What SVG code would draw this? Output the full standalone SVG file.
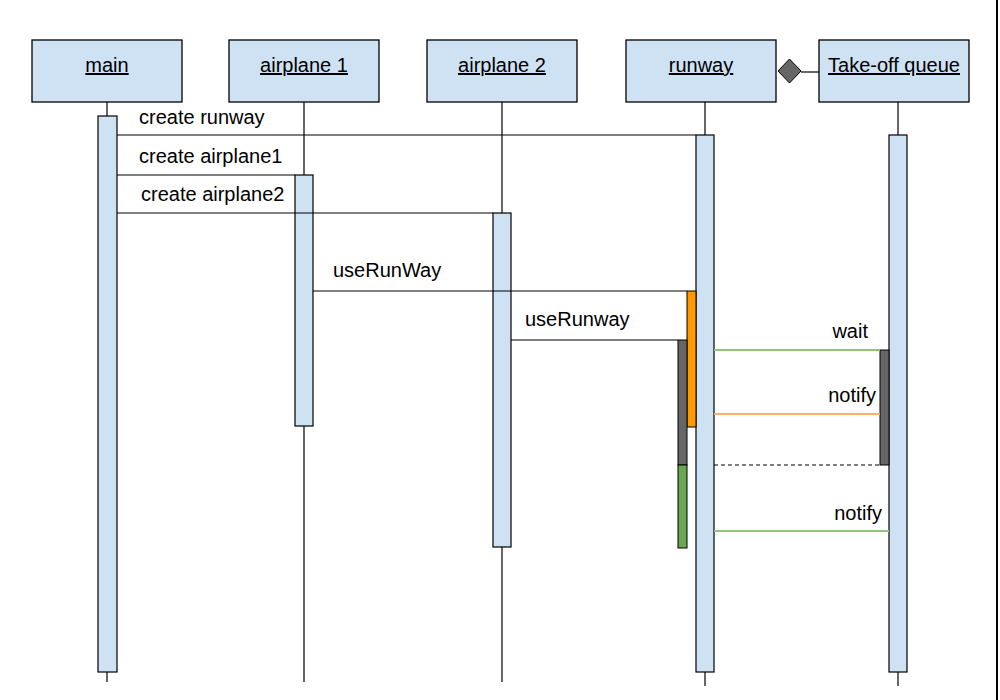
<svg xmlns="http://www.w3.org/2000/svg" width="1000" height="700" viewBox="0 0 1000 700">
<style>
.box{fill:#cfe2f3;stroke:#000;stroke-width:1.3}
.act{fill:#cfe2f3;stroke:#000;stroke-width:1.2}
.life{stroke:#000;stroke-width:1.2;fill:none}
.msg{stroke:#000;stroke-width:1.2;fill:none}
.hdr{font-family:"Liberation Sans",Arial,sans-serif;font-size:20px;text-anchor:middle;text-decoration:underline;fill:#000}
.lbl{font-family:"Liberation Sans",Arial,sans-serif;font-size:20px;fill:#000}
.end{text-anchor:end}
</style>
<rect x="0" y="0" width="1000" height="700" fill="#fff"/>
<line x1="997" y1="0" x2="997" y2="700" stroke="#000" stroke-width="2"/>

<g id="main">
<rect class="box" x="32" y="40" width="150" height="62"/>
<text class="hdr" x="107" y="72">main</text>
<line class="life" x1="107" y1="102" x2="107" y2="682"/>
<rect class="act" x="98" y="116" width="19" height="556"/>
</g>
<g id="airplane1">
<rect class="box" x="229" y="40" width="150" height="62"/>
<text class="hdr" x="304" y="72">airplane 1</text>
<line class="life" x1="304" y1="102" x2="304" y2="682"/>
<rect class="act" x="295" y="175" width="18" height="251"/>
</g>
<g id="airplane2">
<rect class="box" x="427" y="40" width="150" height="62"/>
<text class="hdr" x="502" y="72">airplane 2</text>
<line class="life" x1="502" y1="102" x2="502" y2="682"/>
<rect class="act" x="493" y="213" width="18" height="334"/>
</g>
<g id="runway">
<rect class="box" x="626" y="40" width="150" height="62"/>
<text class="hdr" x="701" y="72">runway</text>
<line class="life" x1="705" y1="102" x2="705" y2="686"/>
<rect class="act" x="696" y="135" width="18" height="537"/>
<rect x="687" y="291" width="9" height="136" fill="#ff9900" stroke="#000" stroke-width="1"/>
<rect x="678" y="340" width="9" height="125" fill="#666666" stroke="#000" stroke-width="1"/>
<rect x="678" y="465" width="9" height="83" fill="#6aa84f" stroke="#000" stroke-width="1"/>
</g>
<g id="takeoff-queue">
<rect class="box" x="819" y="40" width="150" height="62"/>
<text class="hdr" x="894" y="72">Take-off queue</text>
<line class="life" x1="898" y1="102" x2="898" y2="686"/>
<rect class="act" x="889" y="135" width="18" height="537"/>
<rect x="880" y="350" width="9" height="115" fill="#666666" stroke="#000" stroke-width="1"/>
</g>
<g id="composition">
<line x1="801" y1="72" x2="819" y2="72" stroke="#000" stroke-width="1.2"/>
<polygon points="778,71 789.5,59 801,71 789.5,83" fill="#666666" stroke="#000" stroke-width="1"/>
</g>

<g id="connectors">
<line class="msg" x1="117" y1="135" x2="696" y2="135"/>
<line class="msg" x1="117" y1="175" x2="295" y2="175"/>
<line class="msg" x1="117" y1="213" x2="493" y2="213"/>
<line class="msg" x1="313" y1="291" x2="687" y2="291"/>
<line class="msg" x1="511" y1="340" x2="678" y2="340"/>
<line x1="714" y1="350" x2="880" y2="350" stroke="#93c47d" stroke-width="2"/>
<line x1="714" y1="414" x2="880" y2="414" stroke="#f6b26b" stroke-width="2"/>
<line x1="714" y1="465" x2="880" y2="465" stroke="#000" stroke-width="1.2" stroke-dasharray="4,3"/>
<line x1="714" y1="531" x2="889" y2="531" stroke="#93c47d" stroke-width="2"/>
</g>
<g id="labels">
<text class="lbl" x="139" y="124">create runway</text>
<text class="lbl" x="139" y="163">create airplane1</text>
<text class="lbl" x="141" y="201">create airplane2</text>
<text class="lbl" x="333" y="277">useRunWay</text>
<text class="lbl" x="525" y="326">useRunway</text>
<text class="lbl end" x="868" y="338">wait</text>
<text class="lbl end" x="876" y="402">notify</text>
<text class="lbl end" x="882" y="520">notify</text>
</g>
</svg>
